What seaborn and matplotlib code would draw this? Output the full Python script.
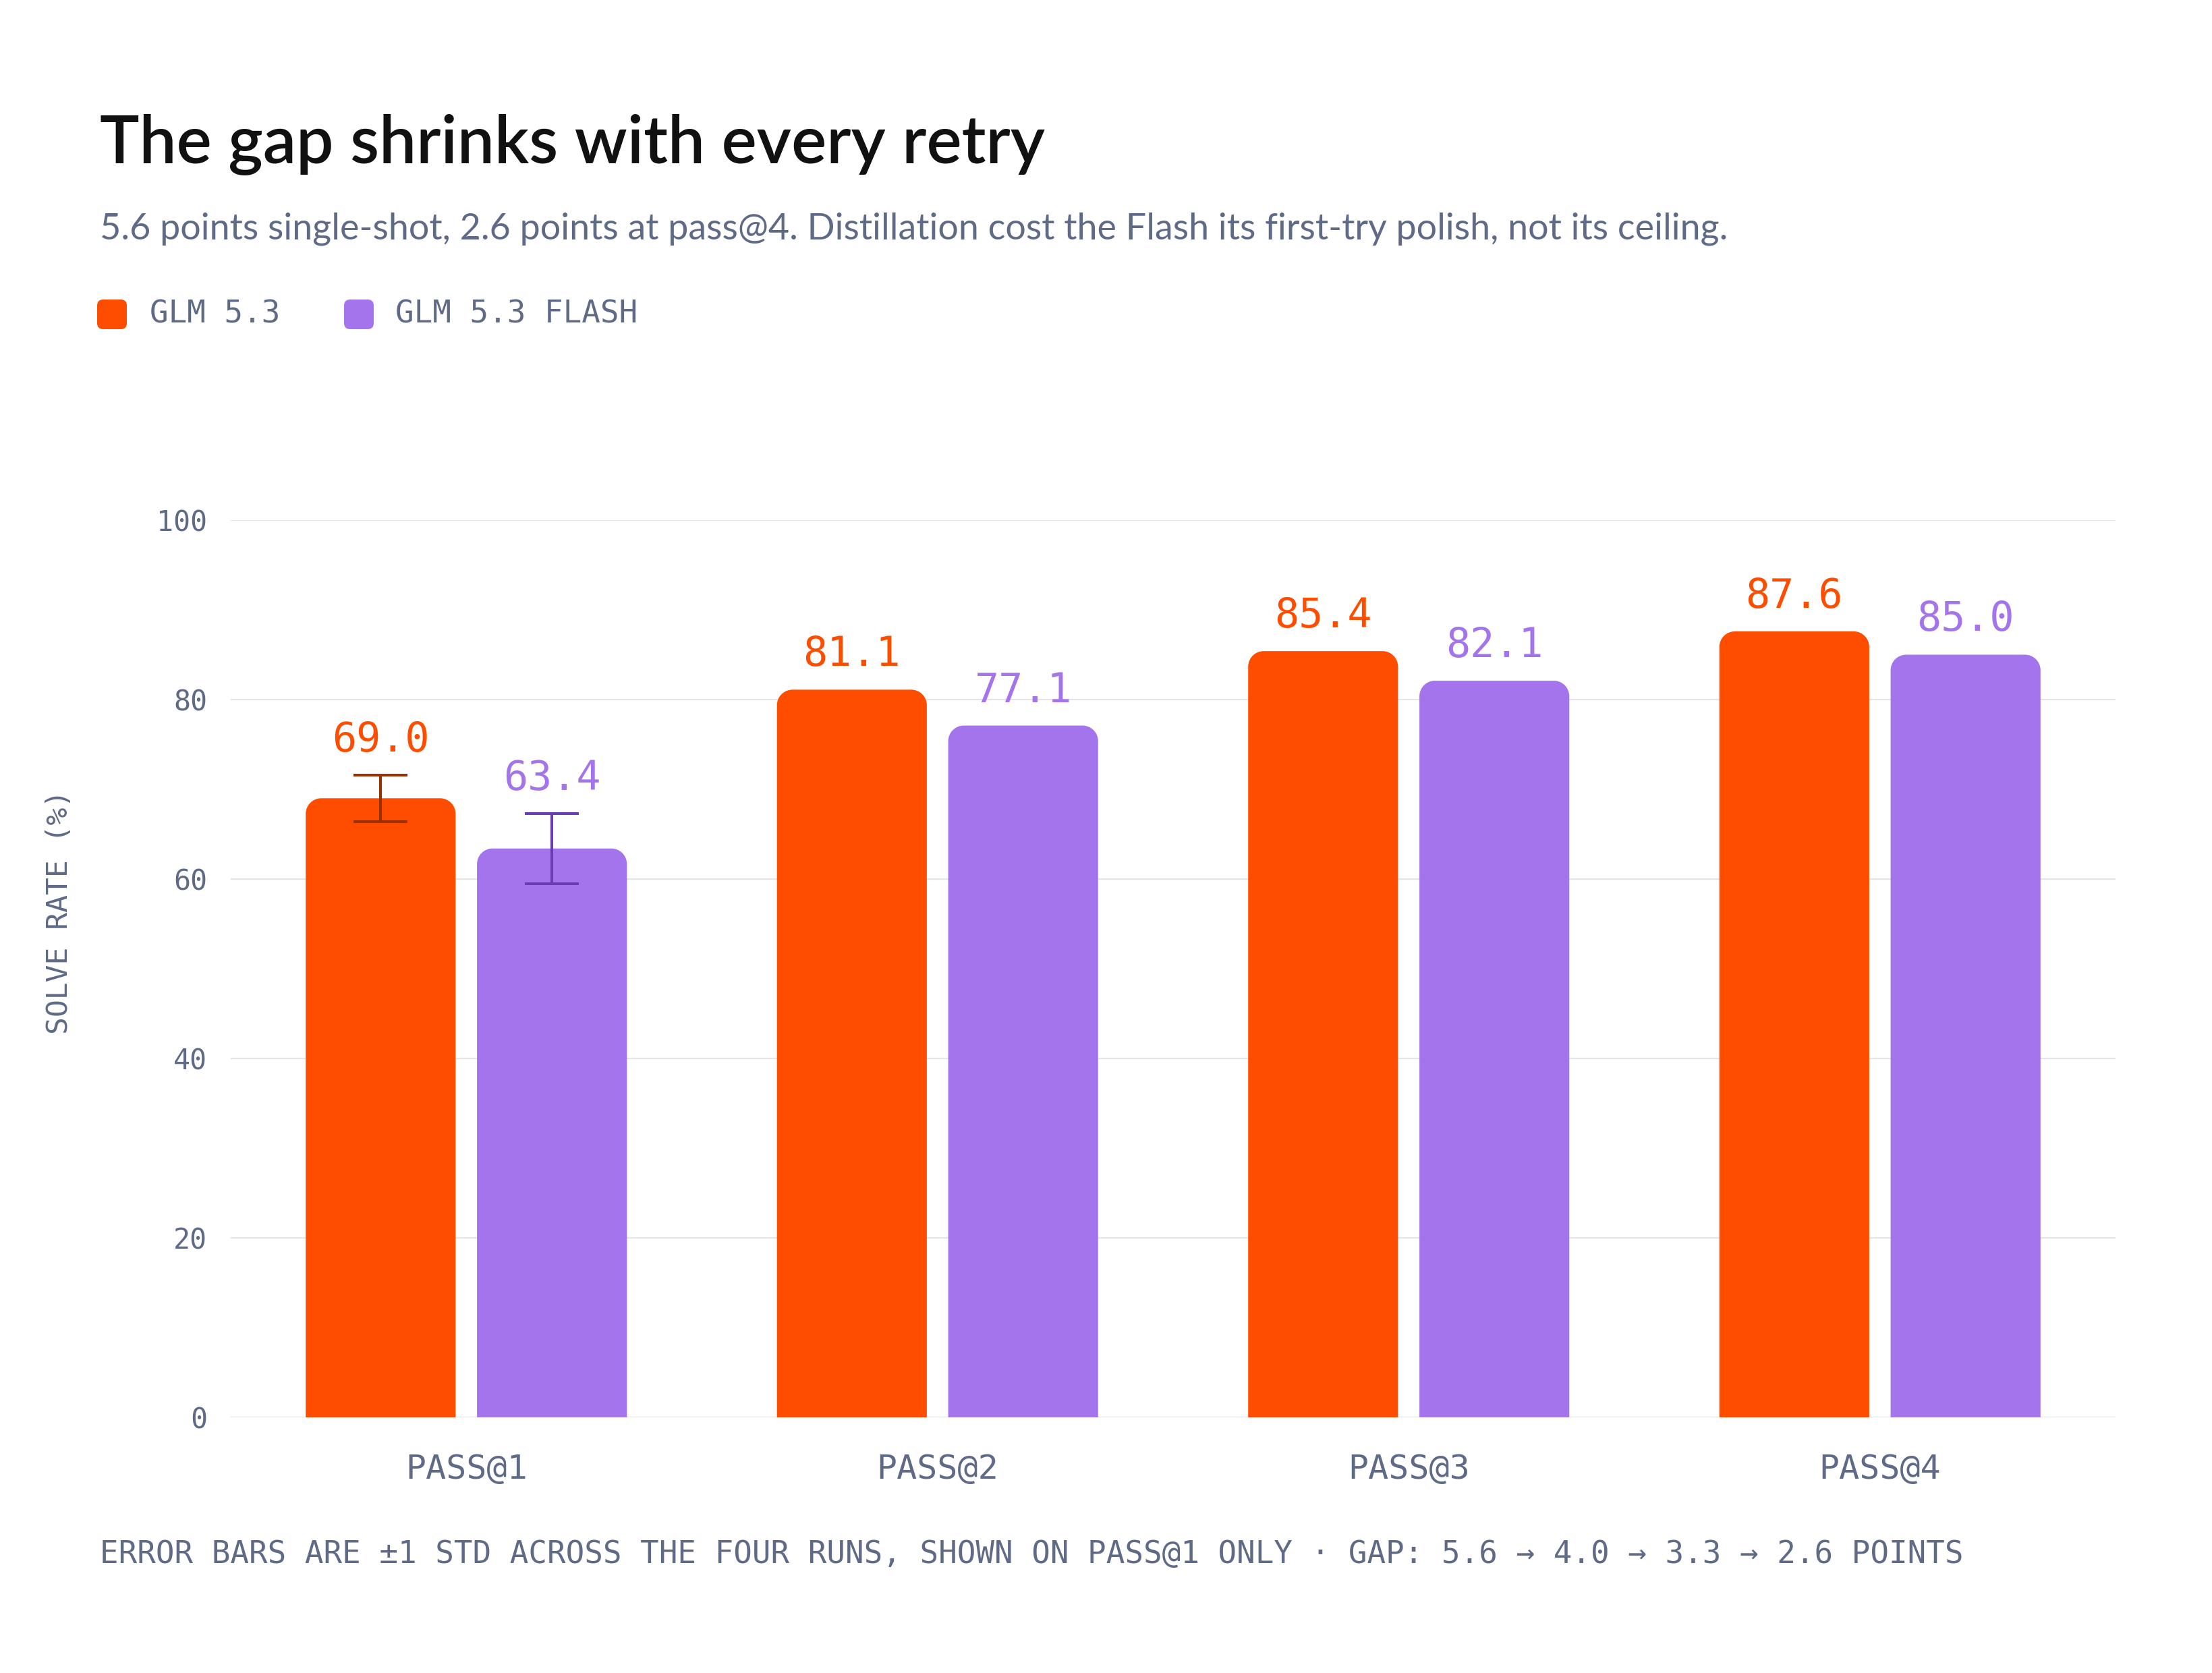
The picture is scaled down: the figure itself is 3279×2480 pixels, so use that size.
import pandas as pd
import seaborn as sns
import matplotlib.pyplot as plt
from matplotlib.patches import FancyBboxPatch, PathPatch
from matplotlib.path import Path

categories = ['PASS@1', 'PASS@2', 'PASS@3', 'PASS@4']
models = ['GLM 5.3', 'GLM 5.3 FLASH']
glm = [69.0, 81.1, 85.4, 87.6]
flash = [63.4, 77.1, 82.1, 85.0]
# std across runs, only reported for pass@1
glm_std = [2.6, 0, 0, 0]
flash_std = [3.9, 0, 0, 0]
yticks = [0, 20, 40, 60, 80, 100]

orange = '#FF4D00'
purple = '#A374EC'
orange_dark = '#993000'
purple_dark = '#6A3DB5'
slate = '#5F6B86'

title = 'The gap shrinks with every retry'
subtitle = ('5.6 points single-shot, 2.6 points at pass@4. Distillation cost the Flash '
            'its first-try polish, not its ceiling.')
footer = ('ERROR BARS ARE \u00b11 STD ACROSS THE FOUR RUNS, SHOWN ON PASS@1 ONLY \u00b7 '
          'GAP: 5.6 \u2192 4.0 \u2192 3.3 \u2192 2.6 POINTS')

df = pd.DataFrame({
    'k': categories * 2,
    'model': [models[0]] * 4 + [models[1]] * 4,
    'rate': glm + flash,
})


def rounded_top(x, w, h, rx, ry, color):
    # bar path with rounded top corners, square bottom
    k = 0.5523
    verts = [(x, 0), (x, h - ry),
             (x, h - ry + k * ry), (x + rx - k * rx, h), (x + rx, h),
             (x + w - rx, h),
             (x + w - rx + k * rx, h), (x + w, h - ry + k * ry), (x + w, h - ry),
             (x + w, 0), (x, 0)]
    codes = [Path.MOVETO, Path.LINETO,
             Path.CURVE4, Path.CURVE4, Path.CURVE4,
             Path.LINETO,
             Path.CURVE4, Path.CURVE4, Path.CURVE4,
             Path.LINETO, Path.CLOSEPOLY]
    return PathPatch(Path(verts, codes), fc=color, ec='none', lw=0, zorder=2)


sns.set_theme(style='white')
plt.rcParams['font.family'] = ['DejaVu Sans Mono', 'DejaVu Sans']

fig = plt.figure(figsize=(16.4, 12.4), dpi=200)
fig.patch.set_facecolor('white')
ax = fig.add_axes([342 / 3280, 379 / 2480, 2794 / 3280, 1330 / 2480])

sns.barplot(data=df, x='k', y='rate', hue='model', palette=[orange, purple],
            width=0.727, gap=0.125, errorbar=None, legend=False, ax=ax)

ax.set_xlim(-0.5, 3.5)
ax.set_ylim(0, 100)
ax.set_yticks(yticks)
ax.grid(axis='y', color='#E4E4EB', lw=0.8)
ax.grid(axis='x', visible=False)
ax.set_axisbelow(True)
for s in ax.spines.values():
    s.set_visible(False)
ax.tick_params(axis='y', length=0, pad=12.6, labelsize=15, labelcolor=slate)
ax.tick_params(axis='x', length=0, pad=19, labelsize=18, labelcolor=slate)
ax.set_xlabel('')
ax.set_ylabel('SOLVE RATE (%)', fontsize=15.5, color=slate, va='center')
ax.yaxis.set_label_coords(-0.0909, 0.5635)

bb = ax.get_window_extent()
rx = 23 / (bb.width / 4)
ry = 23 / (bb.height / 100)

series = [(glm, glm_std, orange, orange_dark), (flash, flash_std, purple, purple_dark)]
for cont, (vals, errs, col, dark) in zip(ax.containers, series):
    for bar, v, e in zip(cont, vals, errs):
        x, w, h = bar.get_x(), bar.get_width(), bar.get_height()
        bar.set_visible(False)
        ax.add_patch(rounded_top(x, w, h, rx, ry, col))
        cx = x + w / 2
        if e > 0:
            ax.errorbar(cx, v, yerr=e, fmt='none', ecolor=dark, elinewidth=1.45,
                        capsize=14.4, capthick=1.45, zorder=3)
        ax.annotate(f'{v:.1f}', xy=(cx, v + e), xytext=(0, 12.6), textcoords='offset points',
                    ha='center', va='baseline', fontsize=21.6, color=col, annotation_clip=False)

# header, legend and footer in pixel coordinates
bg = fig.add_axes([0, 0, 1, 1], zorder=-1)
bg.set_xlim(0, 3280)
bg.set_ylim(2480, 0)
bg.axis('off')

bg.text(148, 242, title, fontfamily='Lato', fontweight='semibold', fontsize=35.4,
        color='#111111', va='baseline', ha='left')
bg.text(148, 355, subtitle, fontfamily='Lato', fontsize=19.4, color=slate,
        va='baseline', ha='left')

for x0, tx, lab, col in [(144, 222, models[0], orange), (510, 586, models[1], purple)]:
    bg.add_patch(FancyBboxPatch((x0, 444), 44, 44, boxstyle='round,pad=0,rounding_size=9',
                                fc=col, ec='none'))
    bg.text(tx, 466, lab, fontsize=16.5, color=slate, va='center', ha='left')

bg.text(148, 2305, footer, fontsize=16.5, color=slate, va='center', ha='left')

fig.savefig('out.png', dpi=200, facecolor='white')
